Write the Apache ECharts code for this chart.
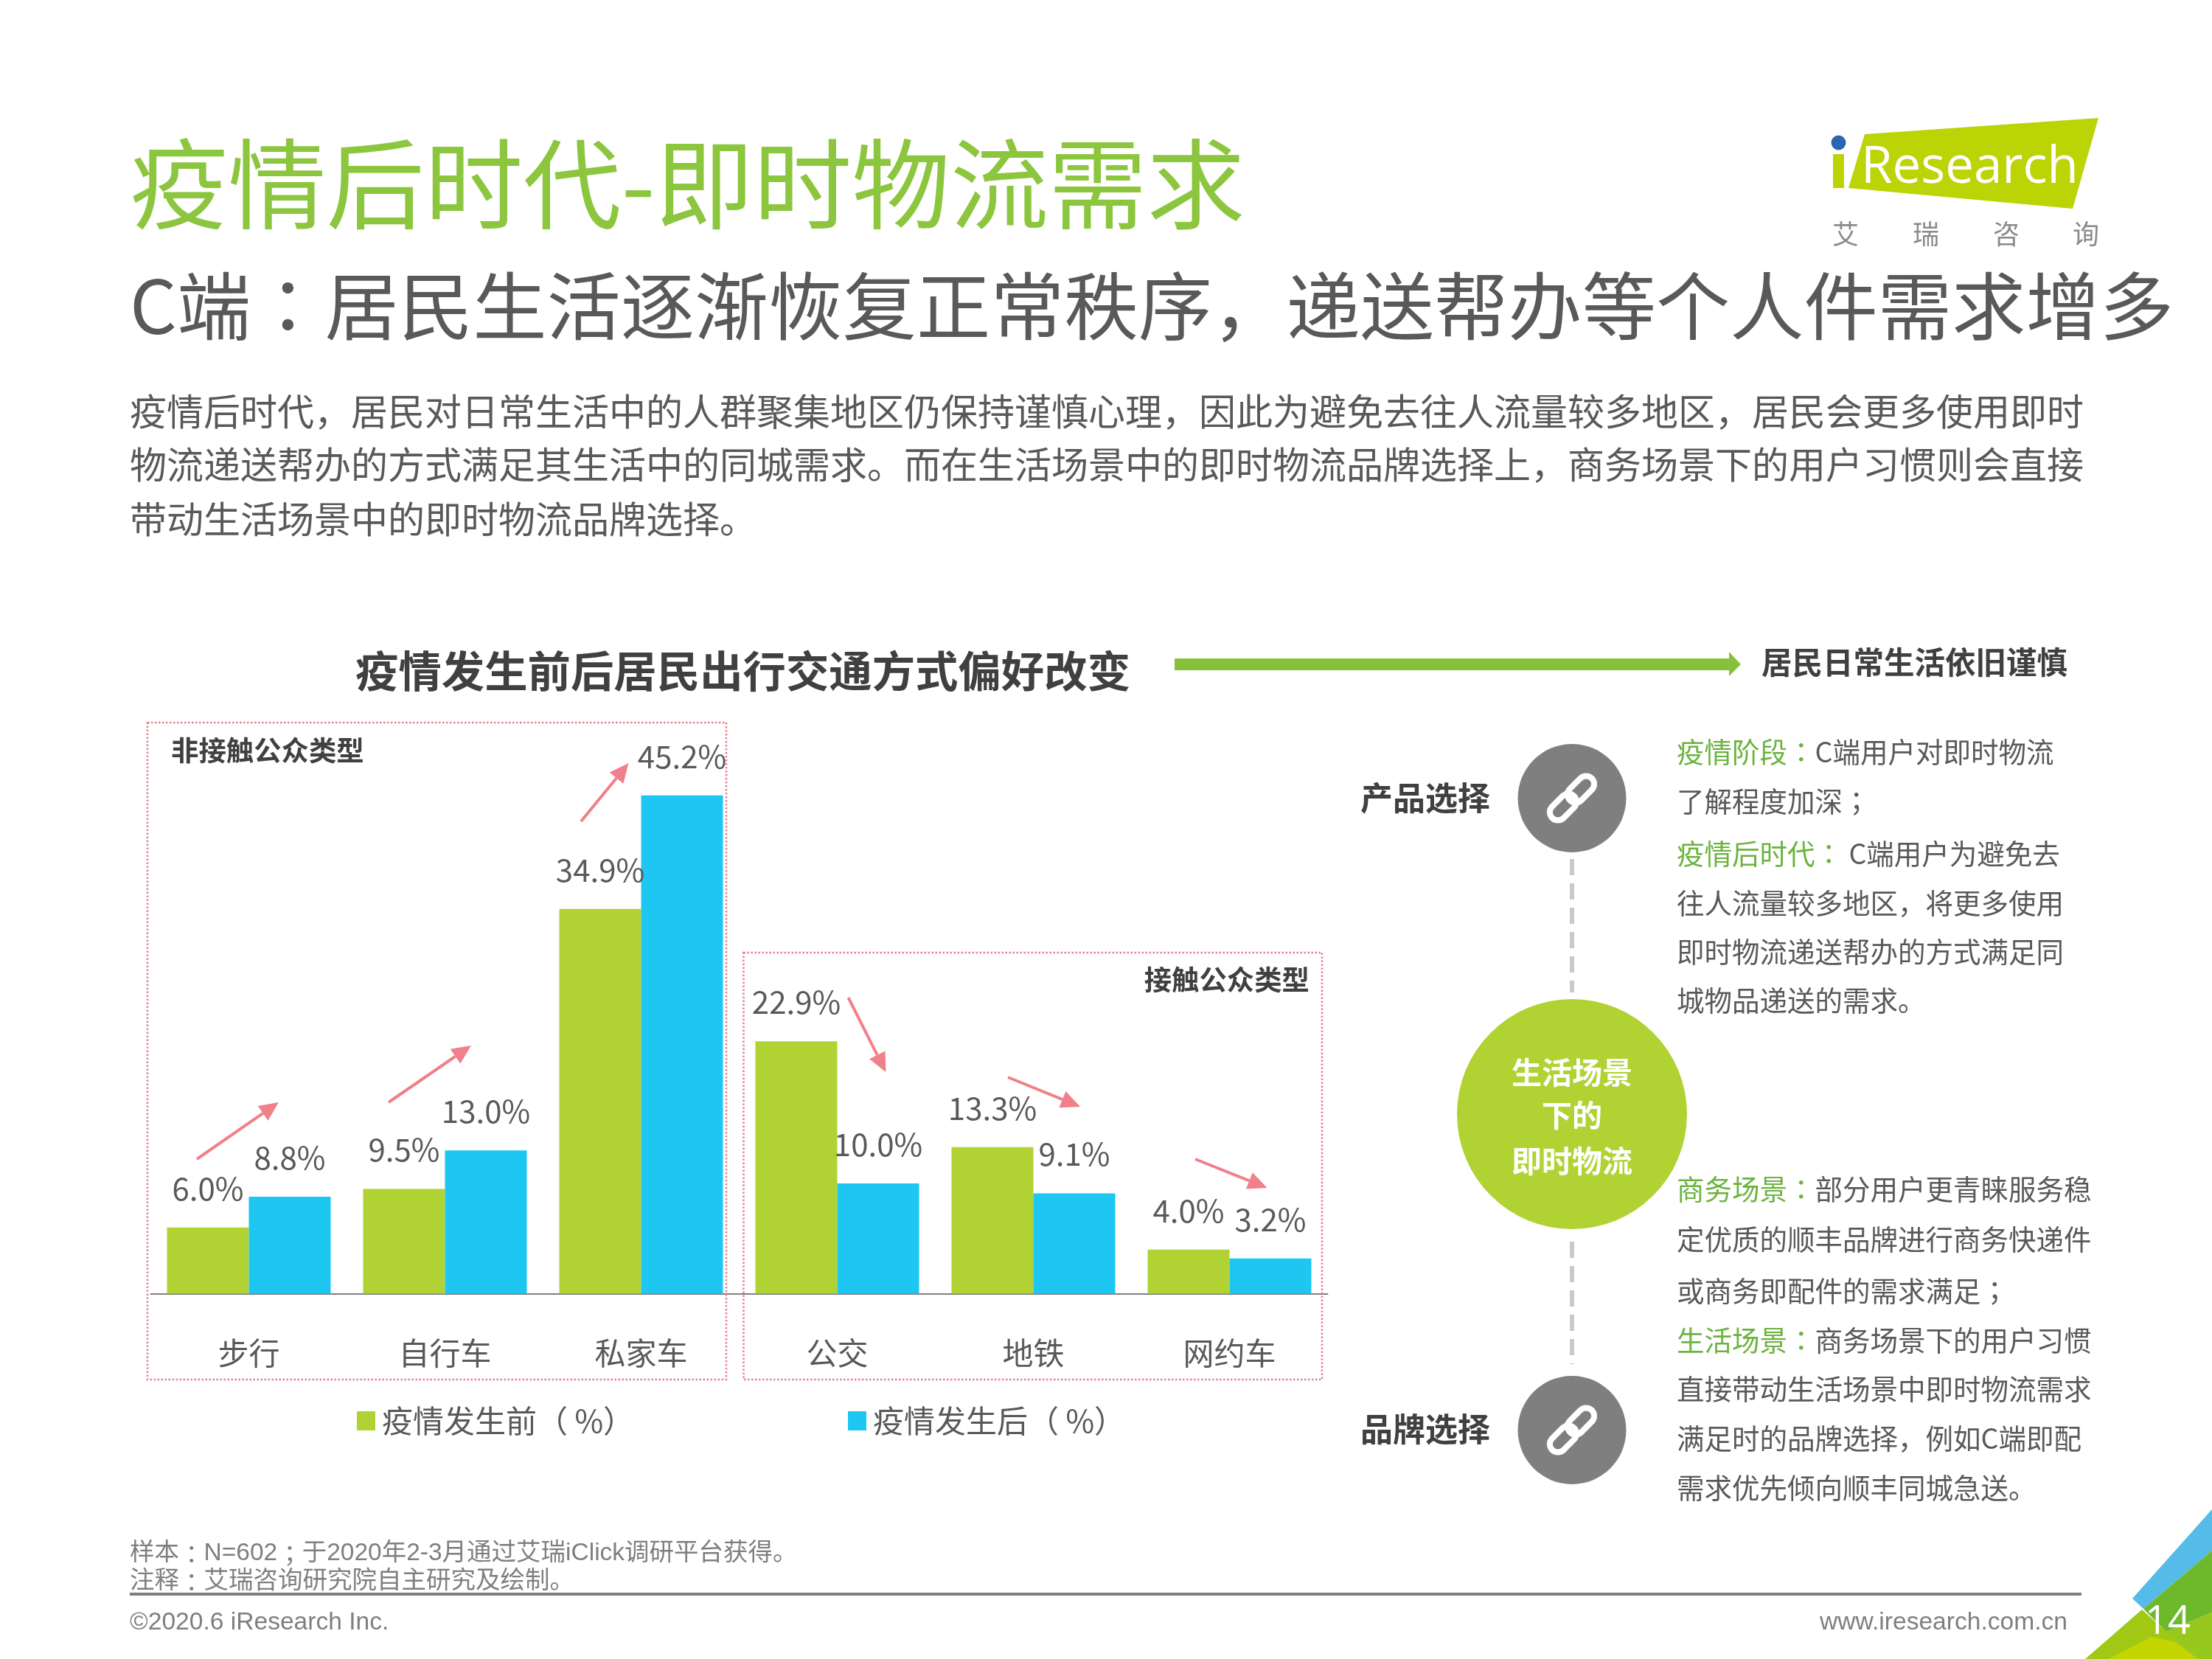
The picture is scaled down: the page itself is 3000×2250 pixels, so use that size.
<!DOCTYPE html>
<html>
<head>
<meta charset="utf-8">
<style>html,body{margin:0;padding:0;background:#fff}#c{width:3000px;height:2250px}</style>
<script src="https://cdn.jsdelivr.net/npm/echarts@6/dist/echarts.min.js"></script>
</head>
<body>
<div id="c"></div>
<script>
const categories = ['步行', '自行车', '私家车', '公交', '地铁', '网约车'];
const beforeValues = [6.0, 9.5, 34.9, 22.9, 13.3, 4.0];
const afterValues = [8.8, 13.0, 45.2, 10.0, 9.1, 3.2];
const seriesNames = ['疫情发生前（ %）', '疫情发生后（ %）'];

const titleText = '疫情后时代-即时物流需求';
const subtitleText = 'C端：居民生活逐渐恢复正常秩序，递送帮办等个人件需求增多';
const bodyLines = [
  '疫情后时代，居民对日常生活中的人群聚集地区仍保持谨慎心理，因此为避免去往人流量较多地区，居民会更多使用即时',
  '物流递送帮办的方式满足其生活中的同城需求。而在生活场景中的即时物流品牌选择上，商务场景下的用户习惯则会直接',
  '带动生活场景中的即时物流品牌选择。'
];
const chartTitle = '疫情发生前后居民出行交通方式偏好改变';
const sideHeading = '居民日常生活依旧谨慎';
const productLines = [
  ['疫情阶段：', 'C端用户对即时物流'],
  ['', '了解程度加深；'],
  ['疫情后时代：', ' C端用户为避免去'],
  ['', '往人流量较多地区，将更多使用'],
  ['', '即时物流递送帮办的方式满足同'],
  ['', '城物品递送的需求。']
];
const brandLines = [
  ['商务场景：', '部分用户更青睐服务稳'],
  ['', '定优质的顺丰品牌进行商务快递件'],
  ['', '或商务即配件的需求满足；'],
  ['生活场景：', '商务场景下的用户习惯'],
  ['', '直接带动生活场景中即时物流需求'],
  ['', '满足时的品牌选择，例如C端即配'],
  ['', '需求优先倾向顺丰同城急送。']
];
const notes = ['样本：N=602；于2020年2-3月通过艾瑞iClick调研平台获得。', '注释：艾瑞咨询研究院自主研究及绘制。'];

const CJK = '"Noto Sans CJK SC"';
const CJK_P = '"Noto Sans CJK KR"';
const LAT = '"Liberation Sans"';
const GRAY = '#595959', DARK = '#404040', LIME = '#B0D232', SKY = '#1EC6F2', TITLE_GREEN = '#8CC63F', PINK = '#F0808A';

// split a string so that ，：； use a font with centred punctuation
function seg(text, key) {
  return text.split(/([，：；])/).filter(s => s).map(s =>
    /^[，：；]$/.test(s) ? '{' + key + 'p|' + s + '}' : '{' + key + '|' + s + '}').join('');
}
function txt(text, x, y, size, fill, opts) {
  opts = opts || {};
  const font = (opts.bold ? 'bold ' : '') + size + 'px ' + (opts.family || CJK);
  const style = {
    text, x, y, fill, font,
    textAlign: opts.align || 'left', textVerticalAlign: 'middle'
  };
  if (/[，：；]/.test(text)) {
    style.text = seg(text, 'a');
    style.rich = { a: { fill, font }, ap: { fill, font: size + 'px ' + CJK_P } };
  }
  return { type: 'text', z: opts.z || 5, style };
}
function richLine(parts, x, y) {
  const size = 37.5;
  const font = size + 'px ' + CJK, pf = size + 'px ' + CJK_P;
  return {
    type: 'text', z: 5,
    style: {
      text: seg(parts[0], 'g') + seg(parts[1], 'n'), x, y, textAlign: 'left', textVerticalAlign: 'middle', font,
      rich: {
        g: { fill: '#6CB33F', font }, gp: { fill: '#6CB33F', font: pf },
        n: { fill: GRAY, font }, np: { fill: GRAY, font: pf }
      }
    }
  };
}
function arrow(x1, y1, x2, y2) {
  const a = Math.atan2(y2 - y1, x2 - x1), L = 26, W = 12;
  const bx = x2 - L * Math.cos(a), by = y2 - L * Math.sin(a);
  const nx = -Math.sin(a), ny = Math.cos(a);
  return [
    { type: 'line', z: 6, shape: { x1, y1, x2: bx, y2: by }, style: { stroke: PINK, lineWidth: 4 } },
    { type: 'polygon', z: 6, shape: { points: [[x2, y2], [bx + nx * W, by + ny * W], [bx - nx * W, by - ny * W]] }, style: { fill: PINK } }
  ];
}
function dotted(x, y, w, h) {
  return { type: 'rect', z: 1, shape: { x, y, width: w, height: h }, style: { fill: null, stroke: '#E8808C', lineWidth: 2.5, lineDash: [2.5, 2.5] } };
}
function linkIcon(cx, cy) {
  const link = (x) => ({ type: 'rect', z: 5, shape: { x: x - 21, y: -11, width: 42, height: 22, r: 11 }, style: { fill: null, stroke: '#fff', lineWidth: 8 } });
  return { type: 'group', x: cx, y: cy, rotation: Math.PI / 4, children: [link(-17), link(17)] };
}
function dash(x, y1, y2) {
  return { type: 'line', z: 2, shape: { x1: x, y1, x2: x, y2 }, style: { stroke: '#C9C9C9', lineWidth: 6, lineDash: [22, 11] } };
}
function poly(points, fill, z) {
  return { type: 'polygon', z: z || 1, shape: { points }, style: { fill } };
}

const graphics = [
  // heading
  txt(titleText, 176, 249, 133.3, TITLE_GREEN),
  txt(subtitleText, 176, 415, 100.3, GRAY),
  txt(bodyLines[0], 176, 558, 50, GRAY),
  txt(bodyLines[1], 176, 630, 50, GRAY),
  txt(bodyLines[2], 176, 704, 50, GRAY),
  // logo
  poly([[2529, 182], [2846, 160], [2811, 283], [2507, 255]], '#BAD405'),
  { type: 'rect', z: 2, shape: { x: 2486, y: 209, width: 15, height: 46 }, style: { fill: '#BAD405' } },
  { type: 'circle', z: 2, shape: { cx: 2493.5, cy: 193.5, r: 10 }, style: { fill: '#2B66B1' } },
  txt('Research', 2524, 228, 69, '#FFFFFF', { family: '"Open Sans"' }),
  txt('艾', 2503, 317, 36, '#8A8A8A', { align: 'center' }),
  txt('瑞', 2612, 317, 36, '#8A8A8A', { align: 'center' }),
  txt('咨', 2721, 317, 36, '#8A8A8A', { align: 'center' }),
  txt('询', 2829, 317, 36, '#8A8A8A', { align: 'center' }),
  // chart heading + green arrow
  txt(chartTitle, 482, 910, 58.4, DARK, { bold: true }),
  { type: 'rect', z: 1, shape: { x: 1593, y: 893, width: 752, height: 16 }, style: { fill: '#86C13C' } },
  poly([[2361, 901], [2345, 884], [2345, 917]], '#86C13C'),
  txt(sideHeading, 2389, 898, 41.5, DARK, { bold: true }),
  // dotted group boxes
  dotted(200, 980, 785, 891),
  dotted(1008.5, 1292, 784.5, 579),
  txt('非接触公众类型', 232, 1018, 37.4, DARK, { bold: true }),
  txt('接触公众类型', 1776, 1329, 37.4, DARK, { bold: true, align: 'right' }),
  // trend arrows
  ...arrow(267, 1572, 378, 1495),
  ...arrow(527, 1495, 639, 1418),
  ...arrow(788, 1114, 852.5, 1035),
  ...arrow(1150.5, 1353, 1201.5, 1454),
  ...arrow(1367, 1461, 1465, 1501),
  ...arrow(1621, 1572, 1718.5, 1611),
  // right panel
  dash(2132, 1165, 1346),
  dash(2132, 1684, 1850),
  { type: 'circle', z: 3, shape: { cx: 2132, cy: 1082.5, r: 73.5 }, style: { fill: '#7F7F7F' } },
  { type: 'circle', z: 3, shape: { cx: 2132, cy: 1939.5, r: 73.5 }, style: { fill: '#7F7F7F' } },
  { type: 'circle', z: 3, shape: { cx: 2132, cy: 1511, r: 156 }, style: { fill: LIME } },
  linkIcon(2132, 1082.5),
  linkIcon(2132, 1939.5),
  txt('生活场景', 2132, 1454, 41, '#FFFFFF', { bold: true, align: 'center' }),
  txt('下的', 2132, 1512, 41, '#FFFFFF', { bold: true, align: 'center' }),
  txt('即时物流', 2132, 1574, 41, '#FFFFFF', { bold: true, align: 'center' }),
  txt('产品选择', 1845, 1082, 44, DARK, { bold: true }),
  txt('品牌选择', 1845, 1938, 44, DARK, { bold: true }),
  ...productLines.map((p, i) => richLine(p, 2274, [1020, 1087, 1158, 1225, 1291, 1357][i])),
  ...brandLines.map((p, i) => richLine(p, 2274, [1613, 1681, 1751, 1818, 1884, 1951, 2018][i])),
  // footer
  txt(notes[0], 176, 2107, 33.5, '#7F7F7F', { family: LAT + ',' + CJK }),
  txt(notes[1], 176, 2145, 33.5, '#7F7F7F', { family: LAT + ',' + CJK }),
  { type: 'line', z: 2, shape: { x1: 176, y1: 2162, x2: 2823, y2: 2162 }, style: { stroke: '#7F7F7F', lineWidth: 4 } },
  txt('©2020.6 iResearch Inc.', 176, 2201, 33.6, '#7F7F7F', { family: LAT }),
  txt('www.iresearch.com.cn', 2804, 2201, 33.6, '#7F7F7F', { family: LAT, align: 'right' }),
  // corner
  poly([[2892, 2168], [3000, 2047], [3000, 2103], [2907, 2182]], '#55BBE8', 2),
  poly([[2907, 2182], [3000, 2103], [3000, 2187], [2938, 2213]], '#6EB92B', 2),
  poly([[2828, 2250], [2905, 2183], [2980, 2250]], '#A0C814', 2),
  poly([[2938, 2213], [3000, 2187], [3000, 2250], [2980, 2250]], '#96C81E', 2),
  poly([[2860, 2250], [2917, 2220], [2950, 2227], [2980, 2250]], '#C4D600', 3),
  txt('14', 2940, 2201, 54, '#FFFFFF', { family: '"Open Sans"', align: 'center', z: 4 })
];

function barSeries(name, values, color) {
  return {
    name, type: 'bar', data: values, barWidth: 111, barGap: 0, z: 3,
    itemStyle: { color },
    label: {
      show: true, position: 'top', distance: 32,
      formatter: p => p.value.toFixed(1) + '%',
      fontFamily: CJK, fontSize: 42, color: GRAY
    }
  };
}
function legendOf(name, left) {
  return {
    data: [name], left, top: 1906, itemWidth: 25, itemHeight: 26, itemGap: 0,
    selectedMode: false, icon: 'rect', padding: 0,
    textStyle: { fontFamily: CJK, fontSize: 42, color: GRAY, padding: [0, 0, 0, 4] }
  };
}

const chart = echarts.init(document.getElementById('c'), null, { renderer: 'canvas' });
chart.setOption({
  animation: false,
  backgroundColor: '#fff',
  legend: [legendOf(seriesNames[0], 484), legendOf(seriesNames[1], 1150)],
  grid: { left: 204.5, top: 1007, width: 1596, height: 747.5, containLabel: false },
  xAxis: {
    type: 'category', data: categories,
    axisTick: { show: false },
    axisLine: { lineStyle: { color: '#7F7F7F', width: 2 } },
    axisLabel: { fontFamily: CJK, fontSize: 42, color: GRAY, margin: 60 }
  },
  yAxis: { type: 'value', min: 0, max: 50, show: false, splitLine: { show: false } },
  series: [barSeries(seriesNames[0], beforeValues, LIME), barSeries(seriesNames[1], afterValues, SKY)],
  graphic: { elements: graphics }
});
</script>
</body>
</html>
